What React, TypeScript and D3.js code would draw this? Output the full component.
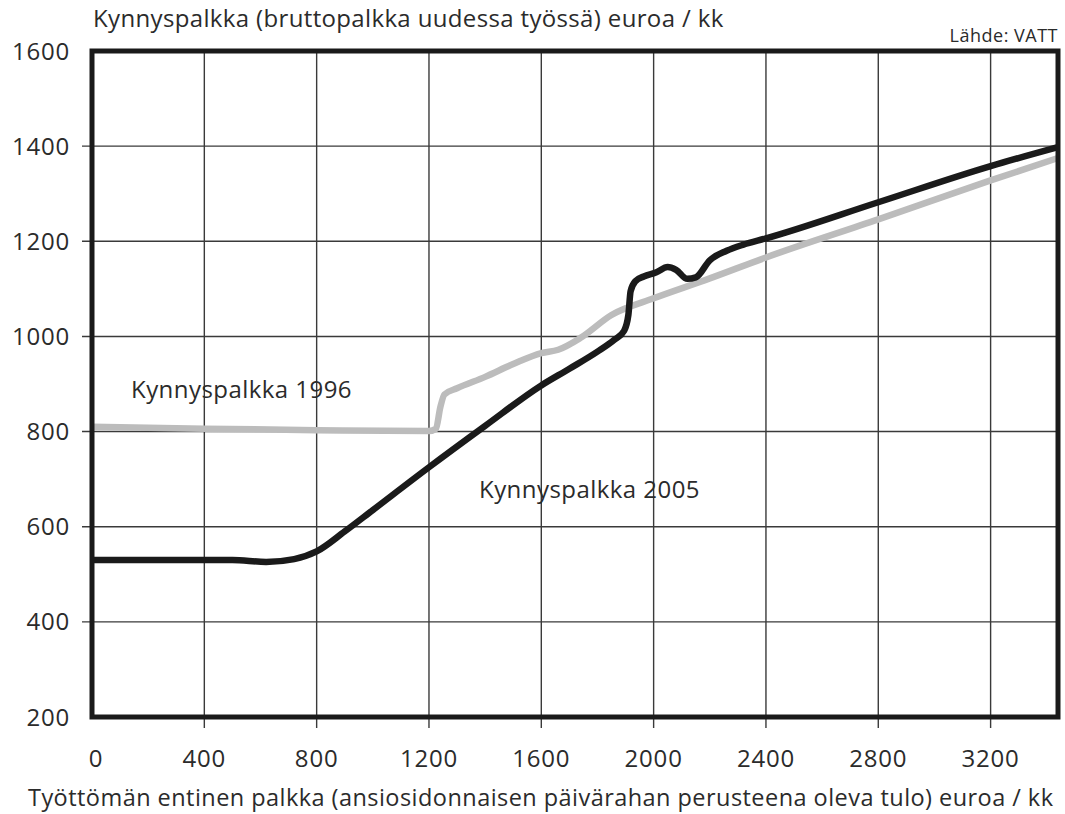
import React from 'react';
import * as d3 from 'd3';

// x = previous wage (euro / month), y = threshold wage (euro / month)
const X_TICKS = [0, 400, 800, 1200, 1600, 2000, 2400, 2800, 3200];
const Y_TICKS = [200, 400, 600, 800, 1000, 1200, 1400, 1600];

const WAGE_1996_X = [0, 400, 800, 1200, 1225, 1240, 1255, 1300, 1400, 1500, 1600, 1660, 1740, 1850, 1990, 2200, 2400, 2800, 3200, 3440];
const WAGE_1996_Y = [810, 806, 803, 801, 806, 850, 878, 891, 915, 942, 965, 972, 997, 1045, 1078, 1122, 1166, 1246, 1328, 1375];

const WAGE_2005_X = [0, 300, 500, 620, 720, 800, 900, 1000, 1200, 1400, 1600, 1700, 1800, 1860, 1895, 1910, 1918, 1935, 1965, 2010, 2050, 2080, 2120, 2150, 2200, 2260, 2320, 2400, 2800, 3200, 3440];
const WAGE_2005_Y = [530, 530, 530, 526, 532, 548, 590, 635, 725, 812, 897, 932, 968, 993, 1012, 1045, 1095, 1116, 1126, 1135, 1146, 1140, 1121, 1124, 1160, 1180, 1193, 1206, 1282, 1358, 1398];

const SERIES_LABELS = ['Kynnyspalkka 1996', 'Kynnyspalkka 2005'];
const TITLE = 'Kynnyspalkka (bruttopalkka uudessa työssä) euroa / kk';
const SOURCE = 'Lähde: VATT';
const X_TITLE = 'Työttömän entinen palkka (ansiosidonnaisen päivärahan perusteena oleva tulo) euroa / kk';

const W = 1065;
const H = 814;
const margin = { top: 51, right: 7, bottom: 97, left: 92 };
const FONT = "'Open Sans', 'Noto Sans', sans-serif";
const INK = '#2b2b2b';

export default function App() {
  const x = d3.scaleLinear().domain([0, 3440]).range([margin.left, W - margin.right]);
  const y = d3.scaleLinear().domain([200, 1600]).range([H - margin.bottom, margin.top]);

  const line = d3
    .line<[number, number]>()
    .x(d => x(d[0]))
    .y(d => y(d[1]))
    .curve(d3.curveMonotoneX);

  const pts1996 = WAGE_1996_X.map((v, i) => [v, WAGE_1996_Y[i]] as [number, number]);
  const pts2005 = WAGE_2005_X.map((v, i) => [v, WAGE_2005_Y[i]] as [number, number]);

  const x0 = x.range()[0];
  const x1 = x.range()[1];
  const yTop = y.range()[1];
  const yBot = y.range()[0];

  return (
    <svg width={W} height={H} style={{ position: 'absolute', left: 0, top: 0, background: '#fff' }} fontFamily={FONT}>
      {/* grid + outside ticks */}
      <g stroke="#3a3a3a" strokeWidth={1.4}>
        {X_TICKS.filter(t => t > 0).map(t => (
          <line key={'gx' + t} x1={x(t)} x2={x(t)} y1={yTop} y2={yBot + 11} />
        ))}
        {Y_TICKS.filter(t => t > 200 && t < 1600).map(t => (
          <line key={'gy' + t} x1={x0 - 10} x2={x1} y1={y(t)} y2={y(t)} />
        ))}
      </g>

      {/* series */}
      <path d={line(pts1996) || ''} fill="none" stroke="#bcbcbc" strokeWidth={6.5} strokeLinejoin="round" />
      <path d={line(pts2005) || ''} fill="none" stroke="#1a1a1a" strokeWidth={6.5} strokeLinejoin="round" />

      {/* frame */}
      <rect x={x0} y={yTop} width={x1 - x0} height={yBot - yTop} fill="none" stroke="#1a1a1a" strokeWidth={5} />

      {/* y tick labels */}
      <g fill={INK} fontSize={24} letterSpacing={0.8} textAnchor="end">
        {Y_TICKS.map(t => (
          <text key={'ly' + t} x={70} y={y(t) + 8.5}>
            {t}
          </text>
        ))}
      </g>

      {/* x tick labels */}
      <g fill={INK} fontSize={24} letterSpacing={0.8} textAnchor="middle">
        {X_TICKS.map(t => (
          <text key={'lx' + t} x={x(t) + (t === 0 ? 4 : 0)} y={767}>
            {t}
          </text>
        ))}
      </g>

      <text x={93} y={27} fontSize={24} letterSpacing={0.35} fill={INK}>
        {TITLE}
      </text>
      <text x={1058} y={42} fontSize={18} letterSpacing={0.5} fill={INK} textAnchor="end">
        {SOURCE}
      </text>
      <text x={28} y={806} fontSize={23.5} letterSpacing={0.45} fill={INK}>
        {X_TITLE}
      </text>

      <text x={131} y={398} fontSize={24} letterSpacing={0.45} fill={INK}>
        {SERIES_LABELS[0]}
      </text>
      <text x={479} y={498} fontSize={24} letterSpacing={0.45} fill={INK}>
        {SERIES_LABELS[1]}
      </text>
    </svg>
  );
}
